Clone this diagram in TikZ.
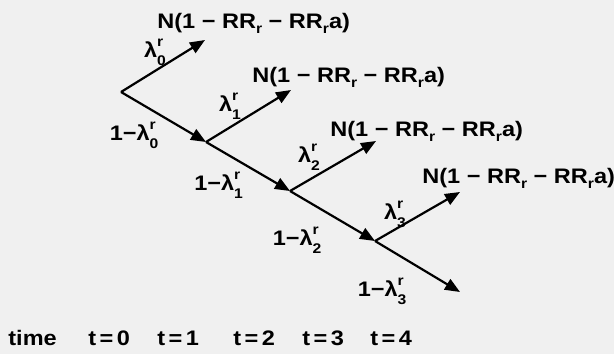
\documentclass[tikz,border=0pt]{standalone}
\usepackage{fontspec}
\setmainfont{Liberation Sans}[FakeStretch=1.12]
\usetikzlibrary{arrows.meta}

\newcommand{\lam}[1]{λ\rlap{\raisebox{1.0ex}{\scriptsize r}}\raisebox{-0.7ex}{\scriptsize #1}}
\newcommand{\outcome}{N(1 − RR\raisebox{-0.5ex}{\scriptsize r} − RR\raisebox{-0.5ex}{\scriptsize r}a)}

\begin{document}
\begin{tikzpicture}[
    x=0.5pt, y=-0.5pt,
    every node/.style={font=\bfseries\fontsize{10.5}{12}\selectfont, inner sep=1pt},
    branch/.style={line width=1.1pt, -{Triangle[length=7.5pt, width=6pt]}},
    outlabel/.style={anchor=base west, inner sep=0pt}
  ]
    \fill[black!6] (0,0) rectangle (614,354);
    \useasboundingbox (0,0) rectangle (614,354);

    % lattice points
    \coordinate (s0) at (121,92);
    \coordinate (s1) at (206,142);
    \coordinate (s2) at (290,191);
    \coordinate (s3) at (375,241);
    \coordinate (s4) at (460,292);
    \coordinate (u0) at (205,40);
    \coordinate (u1) at (291,90);
    \coordinate (u2) at (376,141);
    \coordinate (u3) at (460,192);

    \node[outlabel] (out0) at (157,28) {\outcome};
    \node[outlabel] (out1) at (252,82) {\outcome};
    \node[outlabel] (out2) at (330,136) {\outcome};
    \node[outlabel] (out3) at (422,183) {\outcome};

    % branch probabilities
    \node (l0) at (155,52) {\lam{0}};
    \node (l1) at (230,106) {\lam{1}};
    \node (l2) at (309,157) {\lam{2}};
    \node (l3) at (395,214) {\lam{3}};

    \draw[branch] (s0) -- (u0);
    \draw[branch] (s1) -- (u1);
    \draw[branch] (s2) -- (u2);
    \draw[branch] (s3) -- (u3);

    \draw[branch] (s0) -- node[midway, below left=1pt] (m0) {1−\lam{0}} (s1);
    \draw[branch] (s1) -- node[midway, below left=1pt] (m1) {1−\lam{1}} (s2);
    \draw[branch] (s2) -- node[midway, below left=4pt] (m2) {1−\lam{2}} (s3);
    \draw[branch] (s3) -- node[midway, below left=4pt] (m3) {1−\lam{3}} (s4);

    % time axis
    \node[outlabel] (time) at (8,345) {time};
    \node[outlabel] (t0) at (88,345) {t\,=\,0};
    \node[outlabel] (t1) at (157,345) {t\,=\,1};
    \node[outlabel] (t2) at (233,345) {t\,=\,2};
    \node[outlabel] (t3) at (302,345) {t\,=\,3};
    \node[outlabel] (t4) at (370,345) {t\,=\,4};
  \end{tikzpicture}
\end{document}
